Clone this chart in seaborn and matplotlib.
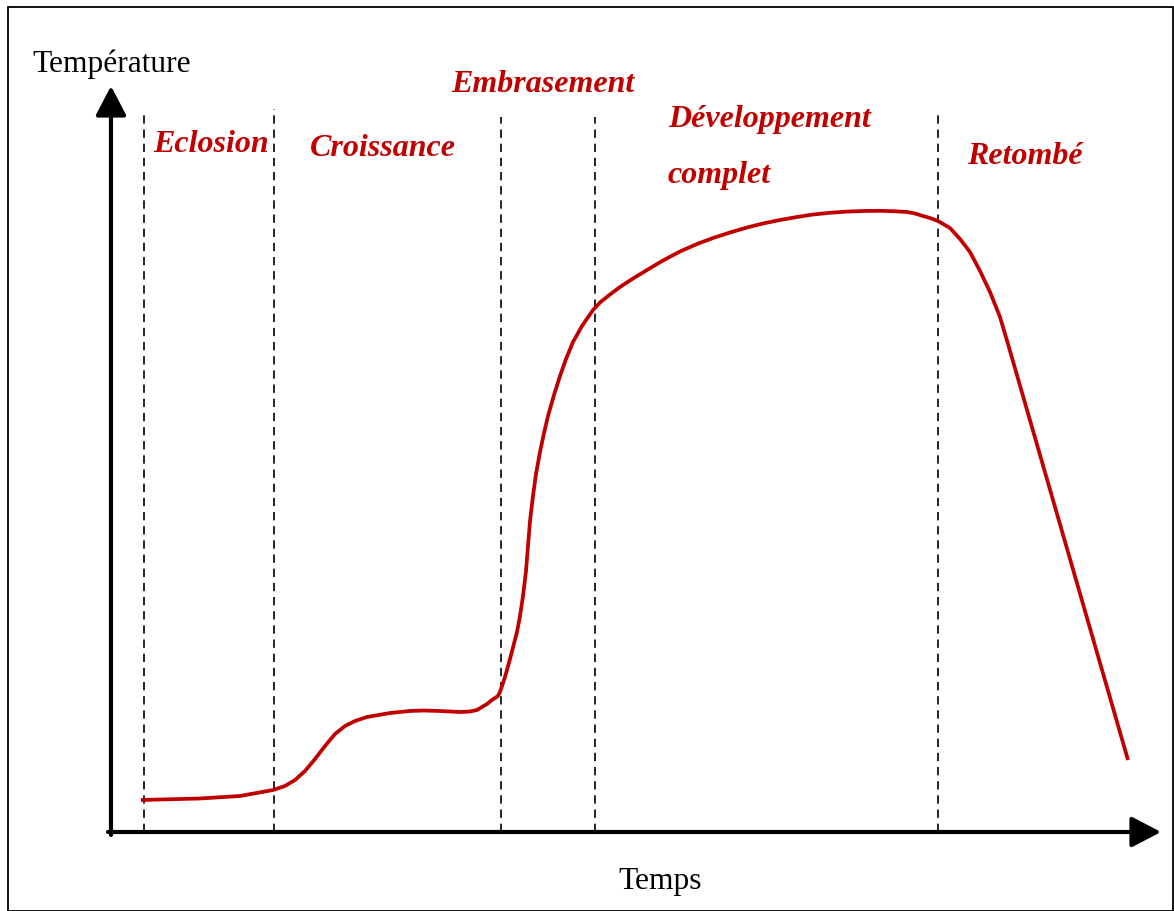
import matplotlib
matplotlib.use("Agg")
import matplotlib.pyplot as plt
import seaborn as sns
import pandas as pd
from matplotlib.patches import Rectangle

# ==========================================
# Données (coordonnées, en pixels)
# ==========================================
temps = [141, 200, 240, 273, 285, 295, 305, 315, 325, 335, 345, 355, 367, 390,
         410, 423, 440, 460, 470, 477, 487, 492, 498, 500, 505, 510, 517, 520,
         523, 526, 528, 530, 533, 536, 540, 544, 548, 554, 560, 566, 573, 582,
         593, 600, 610, 620, 633, 647, 663, 680, 697, 713, 730, 747, 763, 780,
         797, 813, 830, 847, 863, 880, 895, 907, 915, 923, 930, 938, 950, 960,
         970, 980, 990, 1000, 1008, 1128]
temperature = [801, 799.5, 797, 791, 787, 781, 772, 760, 747, 735, 727, 722, 718, 714,
               712, 711.5, 712, 713, 712.5, 711, 705, 701, 697, 693, 678, 660, 633, 617,
               597, 572, 547, 522, 497, 475, 453, 434, 417, 396, 377, 360, 343, 327,
               311, 303.5, 295.5, 288, 279.5, 271, 261.5, 252.5, 245, 239, 233.5, 228.5, 224.5, 221,
               218, 215.5, 213.8, 212.6, 212, 211.8, 212.3, 213, 214.5, 217, 219, 222, 229, 240,
               253, 272, 293, 318, 345, 761]

phases = [144, 274, 501, 595, 938]
phases_haut = [113, 110, 118, 118, 112]

etiquettes = ["Eclosion", "Croissance", "Embrasement", "Développement", "complet", "Retombé"]
etiq_x = [153, 310, 451, 668, 668, 967]
etiq_y = [145, 148, 85, 120, 176, 157]

ROUGE = "#C00000"

# ==========================================
# Figure
# ==========================================
sns.set_style("white")
plt.rcParams["font.family"] = ["Liberation Serif", "DejaVu Serif"]

fig = plt.figure(figsize=(11.74, 9.12), dpi=100)
ax = fig.add_axes([0, 0, 1, 1])

# cadre
fig.patches.append(Rectangle((8 / 1174, 0.5 / 912), 1164.5 / 1174, 904 / 912,
                             transform=fig.transFigure, fill=False,
                             edgecolor="black", lw=1.3))

# lignes de phases
for x, h in zip(phases, phases_haut):
    ax.plot([x, x], [833, h], color="black", lw=1.2, linestyle=(0, (5, 3.5)), zorder=1)

# axes avec flèches
fleche = dict(arrowstyle="-|>,head_length=0.9,head_width=0.47", mutation_scale=20,
              lw=3, color="black", shrinkA=0, shrinkB=0)
ax.annotate("", xy=(111, 87), xytext=(111, 836), arrowprops=fleche, zorder=2)
ax.annotate("", xy=(1161, 833), xytext=(108, 833), arrowprops=fleche, zorder=2)

# courbe
df = pd.DataFrame({"temps": temps, "temperature": temperature})
sns.lineplot(data=df, x="temps", y="temperature", sort=False, estimator=None,
             color=ROUGE, lw=2.7, ax=ax, zorder=3,
             solid_joinstyle="round", solid_capstyle="butt")
ax.set_xlim(0, 1174)
ax.set_ylim(912, 0)
ax.axis("off")

# textes
ax.text(32, 64, "Température", fontsize=22.7, ha="left", va="center", color="black")
ax.text(660, 882, "Temps", fontsize=22.7, ha="center", va="center", color="black")
for t, x, y in zip(etiquettes, etiq_x, etiq_y):
    ax.text(x, y, t, fontsize=23, ha="left", va="center", color=ROUGE,
            fontweight="bold", fontstyle="italic")

fig.savefig("out.png", dpi=100)
